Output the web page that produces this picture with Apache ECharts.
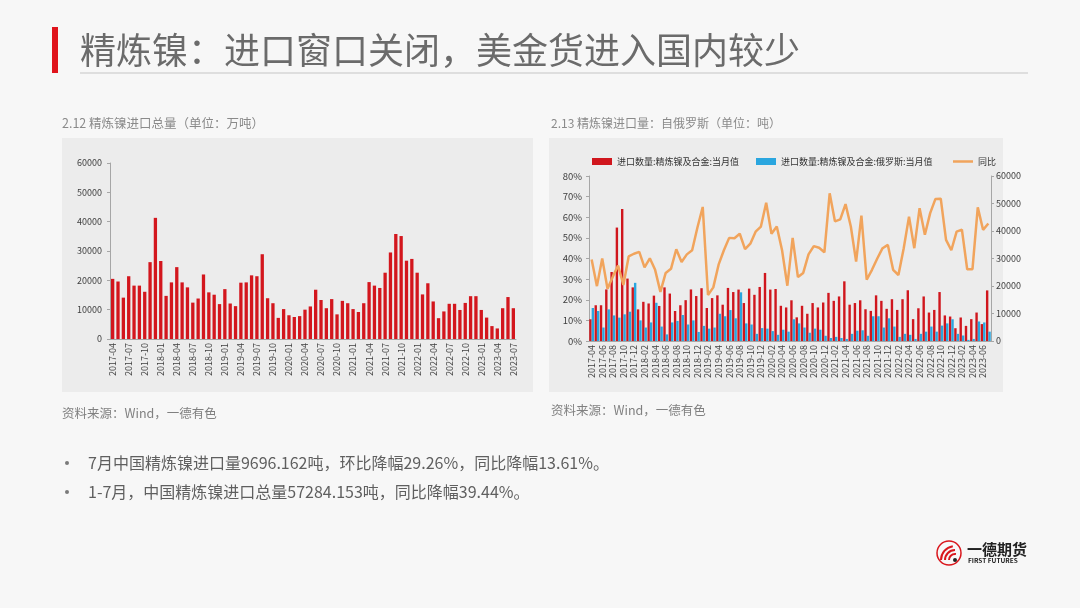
<!DOCTYPE html>
<html>
<head>
<meta charset="utf-8">
<script src="https://cdn.jsdelivr.net/npm/echarts@6/dist/echarts.min.js"></script>
<style>
  html, body { margin: 0; padding: 0; background: #f7f7f7; }
  #main { width: 1080px; height: 608px; }
</style>
</head>
<body>
<div id="main"></div>
<script>
// 月份 2017-04 ~ 2023-07
const months = [
  '2017-04','2017-05','2017-06','2017-07','2017-08','2017-09','2017-10','2017-11','2017-12',
  '2018-01','2018-02','2018-03','2018-04','2018-05','2018-06','2018-07','2018-08','2018-09','2018-10','2018-11','2018-12',
  '2019-01','2019-02','2019-03','2019-04','2019-05','2019-06','2019-07','2019-08','2019-09','2019-10','2019-11','2019-12',
  '2020-01','2020-02','2020-03','2020-04','2020-05','2020-06','2020-07','2020-08','2020-09','2020-10','2020-11','2020-12',
  '2021-01','2021-02','2021-03','2021-04','2021-05','2021-06','2021-07','2021-08','2021-09','2021-10','2021-11','2021-12',
  '2022-01','2022-02','2022-03','2022-04','2022-05','2022-06','2022-07','2022-08','2022-09','2022-10','2022-11','2022-12',
  '2023-01','2023-02','2023-03','2023-04','2023-05','2023-06','2023-07'
]

// 2.12 精炼镍进口总量
const totalImport = [
  20500, 19600, 14100, 21400, 18200, 18200, 16100, 26200, 41300,
  26600, 14700, 19300, 24500, 19300, 17600, 12400, 13800, 22000, 15900, 15100, 11900,
  17000, 12100, 11200, 19200, 19300, 21700, 21400, 28900, 13900, 12200, 7200, 10200,
  8100, 7500, 7800, 10000, 11100, 16800, 13300, 10500, 13600, 8400, 13000, 12200,
  10200, 9200, 12200, 19400, 18200, 17400, 22600, 29500, 35800, 35100, 26700, 27300,
  22600, 15200, 19000, 12800, 7100, 9400, 12000, 12000, 9900, 12300, 14600, 14600,
  9900, 7300, 4400, 3600, 10500, 14300, 10500
]

// 2.13 进口数量:精炼镍及合金:当月值（吨）
const alloyImport = [
  7900, 13000, 13000, 18750, 25100, 41250, 48000, 22700, 19500,
  11500, 14250, 13650, 16500, 12750, 19500, 17250, 10900, 13000, 14850, 18750, 16350,
  19200, 12000, 15600, 16600, 13200, 19300, 17800, 18700, 13800, 19050, 16800, 19650,
  24750, 18700, 18900, 12800, 12200, 14800, 8600, 12800, 9900, 13800, 12200, 14000,
  17500, 14600, 16200, 21700, 13200, 13800, 14800, 11550, 10950, 16600, 14600, 11700,
  15200, 11300, 15200, 18450, 7950, 11900, 16200, 10350, 11300, 17800, 9300, 8900,
  4650, 8550, 5500, 7950, 10350, 6150, 18400
]

// 进口数量:精炼镍及合金:俄罗斯:当月值（吨）
const russiaImport = [
  12000, 10900, 4900, 11500, 9300, 8500, 9700, 10650, 21150,
  7500, 4900, 6750, 13900, 5250, 2400, 6750, 7300, 9450, 6000, 7500, 3300,
  5500, 4500, 4900, 9900, 9000, 11250, 8250, 17700, 6400, 6000, 2600, 4700,
  4500, 3600, 2250, 4100, 3400, 7900, 6400, 4900, 3000, 4500, 4100, 1900,
  1100, 1500, 1100, 750, 2600, 3750, 3900, 1900, 9000, 9000, 4900, 8250,
  5250, 1500, 2600, 2250, 750, 2600, 3400, 5250, 3400, 5600, 6400, 7900,
  2600, 2000, 400, 750, 7100, 6750, 3400
]

// 同比（%）
const yoyRatio = [
  39.5, 26.6, 40, 25.3, 31.2, 36.6, 27.2, 41, 42.3,
  43.2, 35.7, 40.1, 34.5, 23.8, 33, 35, 44.5, 38.3, 42, 44, 55,
  65, 22.3, 26, 37, 44, 50, 49.8, 52, 44.5, 47.2, 53, 55.5,
  67, 52, 55.5, 44, 26.8, 50, 31, 33, 42, 46, 45.2, 43,
  71.6, 58, 59, 66.4, 55.5, 38.5, 60.8, 29.7, 34.5, 40, 45, 46.6,
  34.5, 32, 45, 60.3, 45, 64.4, 51.5, 62, 68.9, 69, 49, 44,
  53, 54, 34.8, 34.8, 64.8, 53.9, 57
]

const font = '"Noto Sans CJK SC", "Noto Sans", sans-serif'
const axisGray = '#a6a6a6'
const labelColor = '#404040'
const plainNum = v => String(v) // 不要千分位

let myChart = echarts.init(document.getElementById('main'))
myChart.setOption({
  backgroundColor: '#f7f7f7',
  animation: false,
  textStyle: { fontFamily: font },
  graphic: [
    // 标题
    { type: 'rect', shape: { x: 52, y: 27, width: 6, height: 46 }, style: { fill: '#e0141c' } },
    { type: 'text', x: 80, y: 50, style: { text: '精炼镍：进口窗口关闭，美金货进入国内较少', fontSize: 36, fontFamily: font, fill: '#6b6b6b', verticalAlign: 'middle' } },
    { type: 'rect', shape: { x: 80, y: 72, width: 948, height: 2 }, style: { fill: '#dedede' } },
    // 图表底板
    { type: 'rect', z: -1, shape: { x: 62, y: 138, width: 471, height: 254 }, style: { fill: '#ececec' } },
    { type: 'rect', z: -1, shape: { x: 549, y: 138, width: 454, height: 254 }, style: { fill: '#ececec' } },
    // 小标题
    { type: 'text', x: 62, y: 123, style: { text: '2.12 精炼镍进口总量（单位：万吨）', fontSize: 12.5, fontFamily: font, fill: '#8a8a8a', verticalAlign: 'middle' } },
    { type: 'text', x: 551, y: 123, style: { text: '2.13 精炼镍进口量：自俄罗斯（单位：吨）', fontSize: 12, fontFamily: font, fill: '#8a8a8a', verticalAlign: 'middle' } },
    // 资料来源
    { type: 'text', x: 62, y: 413, style: { text: '资料来源：Wind，一德有色', fontSize: 12.5, fontFamily: font, fill: '#808080', verticalAlign: 'middle' } },
    { type: 'text', x: 551, y: 410, style: { text: '资料来源：Wind，一德有色', fontSize: 12.5, fontFamily: font, fill: '#808080', verticalAlign: 'middle' } },
    // 要点
    { type: 'circle', shape: { cx: 67, cy: 463, r: 2 }, style: { fill: '#7a7a7a' } },
    { type: 'text', x: 88, y: 463, style: { text: '7月中国精炼镍进口量9696.162吨，环比降幅29.26%，同比降幅13.61%。', fontSize: 16, fontFamily: font, fill: '#5f5f5f', verticalAlign: 'middle' } },
    { type: 'circle', shape: { cx: 67, cy: 492, r: 2 }, style: { fill: '#7a7a7a' } },
    { type: 'text', x: 88, y: 492, style: { text: '1-7月，中国精炼镍进口总量57284.153吨，同比降幅39.44%。', fontSize: 16, fontFamily: font, fill: '#5f5f5f', verticalAlign: 'middle' } },
    // logo
    { type: 'circle', shape: { cx: 949, cy: 553, r: 12 }, style: { fill: 'none', stroke: '#d9161c', lineWidth: 1.5 } },
    { type: 'arc', shape: { cx: 955, cy: 560, r: 14, startAngle: Math.PI * 1.0, endAngle: Math.PI * 1.45 }, style: { fill: 'none', stroke: '#d9161c', lineWidth: 2 } },
    { type: 'arc', shape: { cx: 955, cy: 560, r: 10, startAngle: Math.PI * 1.0, endAngle: Math.PI * 1.5 }, style: { fill: 'none', stroke: '#d9161c', lineWidth: 2 } },
    { type: 'arc', shape: { cx: 955, cy: 560, r: 6, startAngle: Math.PI * 1.0, endAngle: Math.PI * 1.55 }, style: { fill: 'none', stroke: '#d9161c', lineWidth: 2 } },
    { type: 'circle', shape: { cx: 955, cy: 560, r: 2 }, style: { fill: '#222' } },
    { type: 'text', x: 967, y: 549, style: { text: '一德期货', fontSize: 15, fontWeight: 'bold', fontFamily: font, fill: '#222', verticalAlign: 'middle' } },
    { type: 'text', x: 968, y: 561, style: { text: 'FIRST FUTURES', fontSize: 6.5, fontWeight: 'bold', fontFamily: font, fill: '#222', verticalAlign: 'middle' } }
  ],
  legend: [
    {
      left: 587, top: 152,
      itemWidth: 20, itemHeight: 7, itemGap: 17,
      icon: 'rect',
      textStyle: { fontSize: 9, color: '#333' },
      data: ['进口数量:精炼镍及合金:当月值', '进口数量:精炼镍及合金:俄罗斯:当月值']
    },
    {
      left: 948, top: 152,
      itemWidth: 20, itemHeight: 2.5,
      icon: 'rect',
      textStyle: { fontSize: 9, color: '#333' },
      data: ['同比']
    }
  ],
  grid: [
    { left: 110, right: 564, top: 163, bottom: 269 },
    { left: 589, right: 89, top: 176, bottom: 267 }
  ],
  xAxis: [
    {
      type: 'category', gridIndex: 0, data: months,
      axisLine: { lineStyle: { color: axisGray } },
      axisTick: { interval: 2, length: 3, lineStyle: { color: axisGray } },
      axisLabel: { interval: 2, rotate: 90, fontSize: 9, color: labelColor, margin: 4 }
    },
    {
      type: 'category', gridIndex: 1, data: months,
      axisLine: { lineStyle: { color: axisGray } },
      axisTick: { interval: 1, length: 3, lineStyle: { color: axisGray } },
      axisLabel: { interval: 1, rotate: 90, fontSize: 9, color: labelColor, margin: 4 }
    }
  ],
  yAxis: [
    {
      type: 'value', gridIndex: 0, min: 0, max: 60000, interval: 10000,
      axisLine: { show: true, lineStyle: { color: axisGray } },
      axisTick: { show: true, length: 3, lineStyle: { color: axisGray } },
      axisLabel: { fontSize: 9, color: labelColor, margin: 8, formatter: plainNum },
      splitLine: { show: false }
    },
    {
      type: 'value', gridIndex: 1, min: 0, max: 80, interval: 10, position: 'left',
      axisLine: { show: true, lineStyle: { color: axisGray } },
      axisTick: { show: true, length: 3, lineStyle: { color: axisGray } },
      axisLabel: { fontSize: 9.5, color: labelColor, margin: 7, formatter: '{value}%' },
      splitLine: { show: false }
    },
    {
      type: 'value', gridIndex: 1, min: 0, max: 60000, interval: 10000, position: 'right',
      axisLine: { show: true, lineStyle: { color: axisGray } },
      axisTick: { show: true, length: 3, lineStyle: { color: axisGray } },
      axisLabel: { fontSize: 9, color: labelColor, margin: 5, formatter: plainNum },
      splitLine: { show: false }
    }
  ],
  series: [
    {
      name: '精炼镍进口总量', type: 'bar', xAxisIndex: 0, yAxisIndex: 0,
      barWidth: 3.3,
      itemStyle: { color: '#d3161d' },
      data: totalImport
    },
    {
      name: '进口数量:精炼镍及合金:当月值', type: 'bar', xAxisIndex: 1, yAxisIndex: 2,
      barWidth: 2.4, barGap: '0%',
      itemStyle: { color: '#d0161d' },
      data: alloyImport
    },
    {
      name: '进口数量:精炼镍及合金:俄罗斯:当月值', type: 'bar', xAxisIndex: 1, yAxisIndex: 2,
      barWidth: 2.4, barGap: '0%',
      itemStyle: { color: '#2aa6df' },
      data: russiaImport
    },
    {
      name: '同比', type: 'line', xAxisIndex: 1, yAxisIndex: 1,
      symbol: 'none',
      lineStyle: { color: '#f1a45c', width: 2.5 },
      itemStyle: { color: '#f1a45c' },
      z: 5,
      data: yoyRatio
    }
  ]
})
</script>
</body>
</html>
